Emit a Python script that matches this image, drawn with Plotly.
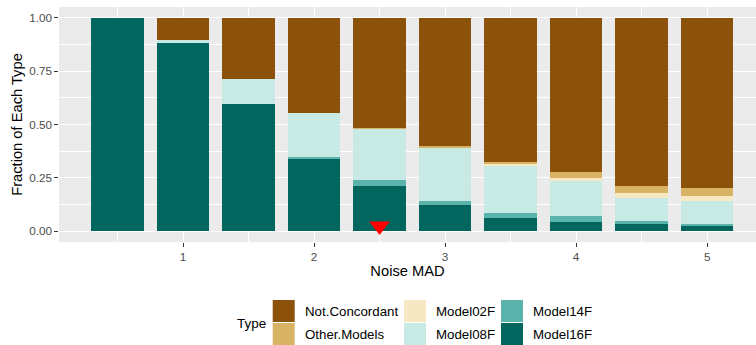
import plotly.graph_objects as go

# Noise level (MAD) for each stacked bar
noise_mad = [0.5, 1.0, 1.5, 2.0, 2.5, 3.0, 3.5, 4.0, 4.5, 5.0]

# Fraction of each type per noise level
model16f = [1.000, 0.883, 0.594, 0.340, 0.214, 0.125, 0.064, 0.045, 0.036, 0.027]
model14f = [0.000, 0.000, 0.000, 0.006, 0.028, 0.019, 0.023, 0.028, 0.014, 0.009]
model08f = [0.000, 0.013, 0.120, 0.209, 0.238, 0.248, 0.221, 0.164, 0.107, 0.107]
model02f = [0.000, 0.000, 0.000, 0.000, 0.000, 0.000, 0.0065, 0.014, 0.023, 0.023]
other_models = [0.000, 0.000, 0.000, 0.000, 0.003, 0.006, 0.011, 0.028, 0.033, 0.037]
not_concordant = [0.000, 0.104, 0.286, 0.445, 0.517, 0.602, 0.674, 0.721, 0.787, 0.797]

# Highlighted noise level
marker_x = [2.5]
marker_y = [0.025]

x_ticks = [1, 2, 3, 4, 5]
y_ticks = [0, 0.25, 0.5, 0.75, 1.0]

# Legend order (ggplot-style, filled column by column)
type_names = ["Not.Concordant", "Other.Models", "Model02F", "Model08F", "Model14F", "Model16F"]
type_colors = ["#8C510A", "#D8B365", "#F6E8C3", "#C7EAE5", "#5AB4AC", "#01665E"]
type_values = [not_concordant, other_models, model02f, model08f, model14f, model16f]

FONT = "Liberation Sans, Arial, Helvetica, sans-serif"
W, H = 756, 345
ML, MR, MT, MB = 59, 0, 7, 103
PW, PH = W - ML - MR, H - MT - MB

fig = go.Figure()

# Stack from the bottom (Model16F) up to Not.Concordant
for name, color, vals in reversed(list(zip(type_names, type_colors, type_values))):
    fig.add_trace(go.Bar(
        x=noise_mad, y=vals, name=name, width=0.4,
        marker=dict(color=color, line=dict(width=0)),
        showlegend=False,
    ))

fig.add_trace(go.Scatter(
    x=marker_x, y=marker_y, mode="markers",
    marker=dict(symbol="triangle-down", size=18, color="#FF0000", line=dict(width=0)),
    showlegend=False,
))

axis_common = dict(
    showgrid=True, gridcolor="white", gridwidth=1.07,
    zeroline=False, showline=False,
    ticks="outside", ticklen=3.7, tickwidth=1.07, tickcolor="#333333",
    tickfont=dict(family=FONT, size=11.7, color="#4D4D4D"),
    title_font=dict(family=FONT, size=14.7, color="black"),
)

fig.update_xaxes(
    **axis_common,
    range=[0.0534, 5.373], tickvals=x_ticks, ticktext=[str(t) for t in x_ticks],
    minor=dict(dtick=0.5, tick0=0.5, showgrid=True, gridcolor="white", gridwidth=0.53, ticks=""),
    title_text="Noise MAD", title_standoff=3,
)
fig.update_yaxes(
    **axis_common,
    range=[-0.05, 1.05], tickvals=y_ticks, tickformat=".2f",
    minor=dict(dtick=0.125, tick0=0.125, showgrid=True, gridcolor="white", gridwidth=0.53, ticks=""),
    title_text="Fraction of Each Type", title_standoff=3,
)

# Legend drawn below the panel: two rows of keys in three columns
def px_to_paper_x(px):
    return (px - ML) / PW

def px_to_paper_y(py):
    return (H - MB - py) / PH

col_key_left = [272.7, 404.0, 501.0]
col_text_left = [303.0, 434.3, 531.0]
row_key_top = [300.0, 323.0]
key_size = 22.0

shapes = []
annotations = []
for i, (name, color) in enumerate(zip(type_names, type_colors)):
    col, row = divmod(i, 2)
    x0 = col_key_left[col]
    y0 = row_key_top[row]
    shapes.append(dict(
        type="rect", xref="paper", yref="paper",
        x0=px_to_paper_x(x0), x1=px_to_paper_x(x0 + key_size),
        y0=px_to_paper_y(y0 + key_size), y1=px_to_paper_y(y0),
        fillcolor=color, line=dict(width=0), layer="above",
    ))
    annotations.append(dict(
        text=name, xref="paper", yref="paper",
        x=px_to_paper_x(col_text_left[col]), y=px_to_paper_y(y0 + key_size / 2),
        xanchor="left", yanchor="middle", showarrow=False,
        font=dict(family=FONT, size=13.3, color="black"),
    ))

annotations.append(dict(
    text="Type", xref="paper", yref="paper",
    x=px_to_paper_x(235.0), y=px_to_paper_y(323.0),
    xanchor="left", yanchor="middle", showarrow=False,
    font=dict(family=FONT, size=13.5, color="black"),
))

fig.update_layout(
    width=W, height=H,
    margin=dict(l=ML, r=MR, t=MT, b=MB, pad=0),
    barmode="stack", bargap=0,
    plot_bgcolor="#EBEBEB", paper_bgcolor="white",
    font=dict(family=FONT),
    showlegend=False,
    shapes=shapes, annotations=annotations,
)

fig.write_html("out.html")
